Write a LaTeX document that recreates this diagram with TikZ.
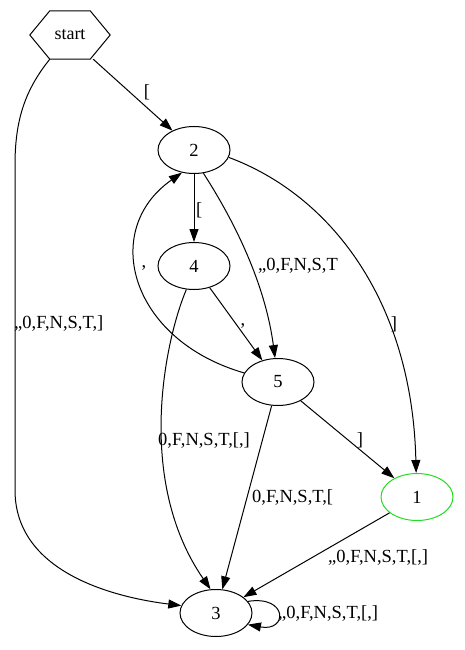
\documentclass[tikz,border=0pt]{standalone}
\usepackage{fontspec}
\setmainfont{Liberation Serif}
\usepackage{tikz}
\usetikzlibrary{arrows.meta,calc,shapes.geometric}
\usepackage{xcolor}
\definecolor{AccGreen}{HTML}{22DD22}

\begin{document}
\begin{tikzpicture}[
  x=1pt,
  y=-1pt,
  >={Triangle[length=13pt,width=9pt]},
  state/.style={
    draw=black,
    line width=1pt,
    ellipse,
    inner sep=0pt,
    minimum width=72pt,
    minimum height=47pt,
    font=\fontsize{18.5}{21}\selectfont
  },
  accept/.style={
    state,
    draw=AccGreen
  },
  startbox/.style={
    draw=none,
    inner sep=0pt,
    minimum width=80pt,
    minimum height=48pt,
    font=\fontsize{18}{21}\selectfont
  },
  lbl/.style={
    inner sep=0pt,
    font=\fontsize{18.5}{21}\selectfont
  },
  edge/.style={
    ->,
    draw=black,
    line width=1pt
  }
]
\useasboundingbox (0,0) rectangle (464,650);

% states
\node[startbox] (start) at (70,35) {start};
\draw[line width=1pt] (start.west) -- ($(start.north west)+(20,0)$)
  -- ($(start.north east)+(-20,0)$) -- (start.east)
  -- ($(start.south east)+(-20,0)$) -- ($(start.south west)+(20,0)$) -- cycle;

\node[state] (n2) at (194,150) {2};
\node[state] (n4) at (194,266) {4};
\node[state] (n5) at (278,382) {5};
\node[accept] (n1) at (417,497) {1};
\node[state] (n3) at (216,613) {3};

% transitions
\draw[edge] ($(start.south east)+(-17,0)$) -- (n2);
\draw[edge] ($(start.south west)+(20,0)$) .. controls (25,90) and (15,120) .. (15,165)
  -- (15,490) .. controls (15,575) and (120,598) .. (n3.168);
\draw[edge] (n2) -- (n4);
\draw[edge] (n2.-68) .. controls (240,230) and (266,290) .. (n5.97);
\draw[edge] (n2.-12) .. controls (330,195) and (412,300) .. (n1.92);
\draw[edge] (n5.165) .. controls (130,340) and (100,230) .. (n2.-118);
\draw[edge] (n4) -- (n5);
\draw[edge] (n4.-108) .. controls (165,340) and (135,480) .. (n3.103);
\draw[edge] (n5) -- (n3);
\draw[edge] (n5) -- (n1);
\draw[edge] (n1) -- (n3);
\draw[edge] (n3.20) .. controls (288,595) and (288,632) .. (n3.-20);

% transition labels
\node[lbl] (ls2) at (147,92) {[};
\node[lbl,anchor=west] (ls3) at (14,324) {,,0,F,N,S,T,]};
\node[lbl,anchor=west] (l24) at (196,210) {[};
\node[lbl,anchor=west] (l25) at (258,266) {,,0,F,N,S,T};
\node[lbl] (l21) at (394,324) {]};
\node[lbl] (l52) at (144,268) {,};
\node[lbl] (l45) at (243,326) {,};
\node[lbl,anchor=west] (l43) at (158,440) {0,F,N,S,T,[,]};
\node[lbl,anchor=west] (l53) at (252,497) {0,F,N,S,T,[};
\node[lbl] (l51) at (360,440) {]};
\node[lbl,anchor=west] (l13) at (328,557) {,,0,F,N,S,T,[,]};
\node[lbl,anchor=west] (l33) at (278,613) {,,0,F,N,S,T,[,]};

\end{tikzpicture}
\end{document}
